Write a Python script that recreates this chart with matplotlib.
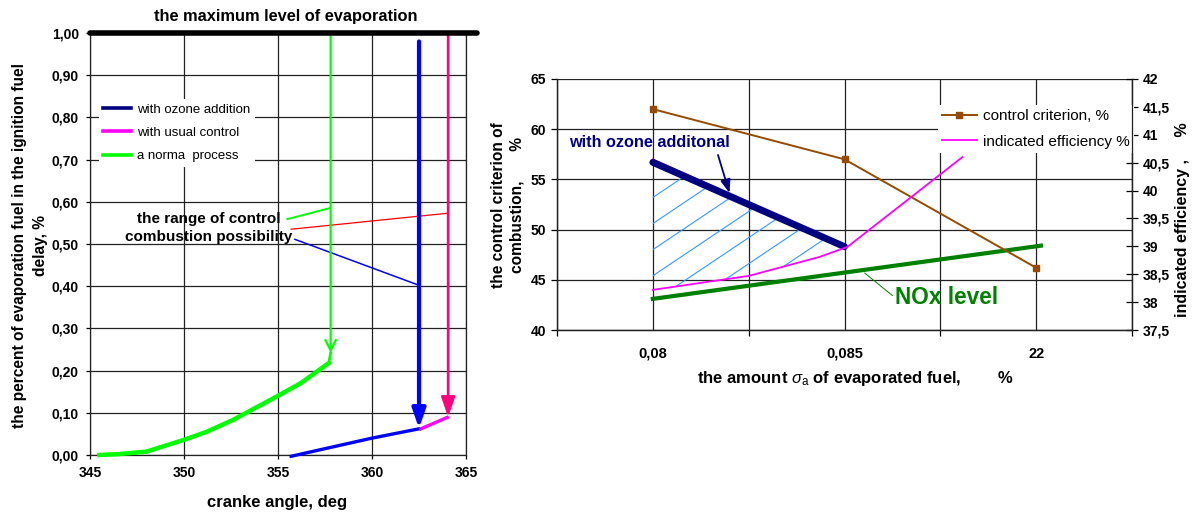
import numpy as np
import matplotlib
matplotlib.use('Agg')
import matplotlib.pyplot as plt
from matplotlib.lines import Line2D
from matplotlib.patches import Polygon
from matplotlib.ticker import FuncFormatter, FixedLocator

plt.rcParams['font.family'] = ['Liberation Sans', 'DejaVu Sans']
plt.rcParams['font.weight'] = 'bold'
plt.rcParams['mathtext.fontset'] = 'custom'
plt.rcParams['mathtext.it'] = 'Liberation Sans:style=italic:weight=normal'
plt.rcParams['mathtext.rm'] = 'Liberation Sans:weight=normal'

# ---- left chart: evaporation vs crank angle ----
norm_x = [345.5, 346.5, 348.0, 350.0, 351.2, 352.6, 354.9, 356.2, 357.7]
norm_y = [0.0, 0.002, 0.008, 0.036, 0.055, 0.083, 0.138, 0.17, 0.218]
ozone_low_x = [355.7, 358.0, 360.0, 362.5]
ozone_low_y = [-0.003, 0.02, 0.04, 0.062]
usual_low_x = [362.6, 364.0]
usual_low_y = [0.062, 0.089]
drop_x = [357.8, 362.5, 364.05]
drop_top = [1.0, 0.98, 1.0]
drop_tip = [0.242, 0.063, 0.09]
max_level_x = [345.0, 365.6]
max_level_y = [1.0, 1.0]
range_green_x = [355.5, 357.75]
range_green_y = [0.559, 0.585]
range_red_x = [355.7, 364.05]
range_red_y = [0.535, 0.573]
range_blue_x = [355.9, 362.45]
range_blue_y = [0.511, 0.403]

# ---- right chart: criterion / efficiency vs evaporated fuel ----
categories = ['0,08', '0,085', '22']
cat_pos = [1, 3, 5]
crit_x = [1, 3, 5]
crit_y = [62.0, 57.0, 46.2]
ozone_x = [1, 3]
ozone_y = [56.7, 48.3]
upper_x = [1, 3]
upper_y = [57.0, 48.4]
eff_x = [1, 2, 2.74, 3.03, 4.23]
eff_y = [38.22, 38.47, 38.81, 38.99, 40.6]
nox_x = [1, 5.05]
nox_y = [43.1, 48.4]

W, H = 1198, 514
fig = plt.figure(figsize=(W / 100, H / 100), dpi=100)
GRID = '#222222'

def comma(fmt):
    return FuncFormatter(lambda v, p: (fmt % v).replace('.', ','))

# ================= left =================
ax1 = fig.add_axes([90 / W, 59 / H, 376 / W, 422 / H])
ax1.set_xlim(345, 365)
ax1.set_ylim(0, 1)
ax1.set_xticks([345, 350, 355, 360, 365])
ax1.set_yticks(np.arange(0, 1.01, 0.1))
ax1.yaxis.set_major_formatter(comma('%.2f'))
ax1.grid(True, color=GRID, lw=0.9)
ax1.set_axisbelow(True)
ax1.spines['top'].set_visible(False)
for s in ['left', 'bottom', 'right']:
    ax1.spines[s].set_color(GRID)
    ax1.spines[s].set_linewidth(0.9)
ax1.tick_params(direction='out', length=3, width=0.9, labelsize=10, pad=5)

ax1.plot(max_level_x, max_level_y, color='black', lw=4, solid_capstyle='round',
         clip_on=False, zorder=5)
ax1.plot(norm_x, norm_y, color='#00FF00', lw=3.2, clip_on=False, zorder=4)
ax1.plot(ozone_low_x, ozone_low_y, color='#0000FF', lw=2.4, clip_on=False, zorder=4)
ax1.plot(usual_low_x, usual_low_y, color='#FF00FF', lw=2.4, zorder=4)
ax1.plot([norm_x[-1], drop_x[0]], [norm_y[-1], drop_tip[0]], color='#00FF00', lw=2, zorder=4)

drop_colors = ['#00FF00', '#0000FF', '#FF0080']
drop_lw = [1.6, 3.0, 1.9]
drop_style = ['->,head_length=0.75,head_width=0.38',
              '-|>,head_length=1.15,head_width=0.4',
              '-|>,head_length=1.2,head_width=0.42']
for x, t, b, c, lw, st in zip(drop_x, drop_top, drop_tip, drop_colors, drop_lw, drop_style):
    ax1.annotate('', xy=(x, b), xytext=(x, t),
                 arrowprops=dict(arrowstyle=st, color=c, lw=lw, shrinkA=0, shrinkB=0,
                                 mutation_scale=10), zorder=4)

ax1.plot(range_green_x, range_green_y, color='#00FF00', lw=1.4)
ax1.plot(range_red_x, range_red_y, color='#FF0000', lw=0.9)
ax1.plot(range_blue_x, range_blue_y, color='#0000FF', lw=1.1)
ax1.text(351.3, 0.538, 'the range of control\ncombustion possibility', ha='center',
         va='center', fontsize=11, linespacing=1.4)

leg_handles = [Line2D([], [], color='#000080', lw=2.6),
               Line2D([], [], color='#FF00FF', lw=2.6),
               Line2D([], [], color='#00FF00', lw=2.6)]
ax1.legend(leg_handles, ['with ozone addition', 'with usual control', 'a norma  process'],
           loc='upper left', bbox_to_anchor=(0.006, 0.86), prop={'size': 9.5, 'weight': 'normal'},
           handlelength=2.1, handletextpad=0.45, labelspacing=0.85, borderpad=0.35,
           frameon=True, fancybox=False, framealpha=1, edgecolor='none', facecolor='white')

fig.text(286 / W, 1 - 17 / H, 'the maximum level of evaporation', ha='center', va='center', fontsize=11.8)
fig.text(277 / W, 1 - 502 / H, 'cranke angle, deg', ha='center', va='center', fontsize=12)
fig.text(30 / W, 1 - 245 / H, 'the percent of evaporation fuel in the ignition fuel\ndelay, %',
         rotation=90, ha='center', va='center', fontsize=11.2, linespacing=1.5)

# ================= right =================
ax = fig.add_axes([557 / W, 184 / H, 575 / W, 251 / H])
ax.set_xlim(0, 6)
ax.set_ylim(40, 65)
ax.set_yticks(np.arange(40, 66, 5))
ax.set_xticks(cat_pos)
ax.set_xticklabels(categories)
ax.xaxis.set_minor_locator(FixedLocator([0, 2, 4, 6]))
ax.tick_params(axis='x', which='major', length=0, pad=12, labelsize=10.5)
ax.tick_params(axis='x', which='minor', length=4, width=0.9, direction='out')
ax.tick_params(axis='y', length=4, width=0.9, direction='out', labelsize=10, pad=4)
ax.grid(True, axis='y', color=GRID, lw=0.9)
ax.grid(True, axis='x', which='both', color=GRID, lw=0.9)
ax.set_axisbelow(True)
ax.spines['top'].set_visible(False)
for s in ['left', 'bottom', 'right']:
    ax.spines[s].set_color(GRID)
    ax.spines[s].set_linewidth(0.9)

ax2 = ax.twinx()
ax2.set_ylim(37.5, 42)
ax2.set_yticks(np.arange(37.5, 42.01, 0.5))
ax2.yaxis.set_major_formatter(comma('%g'))
ax2.tick_params(axis='y', length=8, width=0.9, direction='inout', labelsize=10, pad=4)
ax2.spines['top'].set_visible(False)
for s in ['left', 'bottom', 'right']:
    ax2.spines[s].set_color(GRID)
    ax2.spines[s].set_linewidth(0.9)

# hatched region between ozone line and efficiency curve
lo_l, hi_l = ax.get_ylim()
lo_r, hi_r = ax2.get_ylim()
eff_on_left = [lo_l + (v - lo_r) * (hi_l - lo_l) / (hi_r - lo_r) for v in eff_y[:4]]
poly_xy = list(zip(ozone_x, ozone_y)) + list(zip(eff_x[:4], eff_on_left))[::-1]
clip = Polygon(poly_xy, closed=True, transform=ax.transData, facecolor='none', edgecolor='none')
ax.add_patch(clip)
hx = np.array([0.9, 3.2])
for c in np.arange(53.2, 30, -2.6):
    ln, = ax.plot(hx, c + 6.4 * (hx - 1), color='#3399FF', lw=0.8)
    ln.set_clip_path(clip)

ax.plot(upper_x, upper_y, color='#FF00FF', lw=1.2, zorder=3)
ax.plot(nox_x, nox_y, color='#008000', lw=3.0, zorder=3)
crit_line, = ax.plot(crit_x, crit_y, color='#964B00', lw=1.4, marker='s', markersize=5, zorder=3)
ax.plot(ozone_x, ozone_y, color='#000080', lw=5, solid_capstyle='round', zorder=4)
eff_line, = ax2.plot(eff_x, eff_y, color='#FF00FF', lw=1.3)

ax.text(0.13, 58.7, 'with ozone additonal', color='#000080', fontsize=11.7, ha='left', va='center')
ax.annotate('', xy=(1.80, 53.65), xytext=(1.68, 57.43),
            arrowprops=dict(arrowstyle='-|>,head_length=0.8,head_width=0.3', color='#000080', lw=1.3,
                            shrinkA=0, shrinkB=0, mutation_scale=10), zorder=5)
ax.annotate('NOx level', xy=(3.21, 45.68), xytext=(3.53, 43.2), color='#008000', fontsize=16.3,
            ha='left', va='center',
            arrowprops=dict(arrowstyle='-', color='#008000', lw=0.7, shrinkA=0, shrinkB=0,
                            relpos=(0, 0.5)))

leg2 = ax2.legend([crit_line, eff_line], ['control criterion, %', 'indicated efficiency %'],
                  loc='upper right', bbox_to_anchor=(1.016, 0.925), prop={'size': 11, 'weight': 'normal'},
                  handlelength=2.3, handletextpad=0.4, labelspacing=0.75, borderpad=0.25,
                  frameon=True, fancybox=False, framealpha=1, edgecolor='none', facecolor='white')
leg2.set_zorder(2.4)  # keep the right spine and its ticks visible over the legend box

fig.text(508 / W, 1 - 205 / H, 'the control criterion of\ncombustion,       %', rotation=90,
         ha='center', va='center', fontsize=11.2, linespacing=1.3)
fig.text(1183 / W, 1 - 220 / H, 'indicated efficiency ,     %', rotation=90,
         ha='center', va='center', fontsize=11.5)
fig.text(855 / W, 1 - 378 / H, r'the amount $\sigma_{\mathrm{a}}$ of evaporated fuel,        %',
         ha='center', va='center', fontsize=12)

fig.savefig('out.png', dpi=100)
